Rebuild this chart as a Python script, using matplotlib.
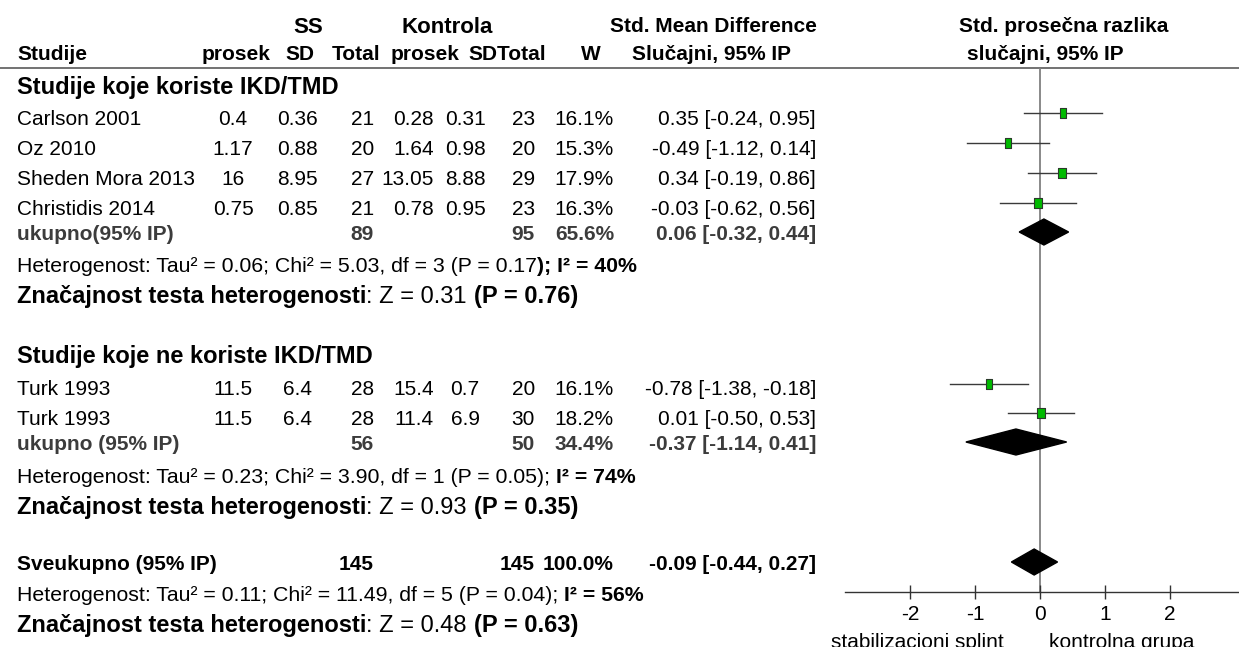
import matplotlib
matplotlib.use("Agg")
import matplotlib.pyplot as plt

plt.rcParams["font.family"] = "Liberation Sans"

# ---- data ----
studies = ["Carlson 2001", "Oz 2010", "Sheden Mora 2013", "Christidis 2014", "Turk 1993", "Turk 1993"]
study_group = [0, 0, 0, 0, 1, 1]
ss_mean = [0.4, 1.17, 16, 0.75, 11.5, 11.5]
ss_sd = [0.36, 0.88, 8.95, 0.85, 6.4, 6.4]
ss_n = [21, 20, 27, 21, 28, 28]
k_mean = [0.28, 1.64, 13.05, 0.78, 15.4, 11.4]
k_sd = [0.31, 0.98, 8.88, 0.95, 0.7, 6.9]
k_n = [23, 20, 29, 23, 20, 30]
weights = [16.1, 15.3, 17.9, 16.3, 16.1, 18.2]
smd = [0.35, -0.49, 0.34, -0.03, -0.78, 0.01]
smd_lo = [-0.24, -1.12, -0.19, -0.62, -1.38, -0.50]
smd_hi = [0.95, 0.14, 0.86, 0.56, -0.18, 0.53]

group_titles = ["Studije koje koriste IKD/TMD", "Studije koje ne koriste IKD/TMD"]
sub_labels = ["ukupno(95% IP)", "ukupno (95% IP)"]
sub_ss_n = [89, 56]
sub_k_n = [95, 50]
sub_w = [65.6, 34.4]
sub_smd = [0.06, -0.37]
sub_lo = [-0.32, -1.14]
sub_hi = [0.44, 0.41]

tot_ss_n, tot_k_n, tot_w = 145, 145, 100.0
tot_smd, tot_lo, tot_hi = -0.09, -0.44, 0.27

het_tau2 = [0.06, 0.23, 0.11]
het_chi2 = [5.03, 3.90, 11.49]
het_df = [3, 1, 5]
het_p = [0.17, 0.05, 0.04]
het_i2 = [40, 74, 56]
test_z = [0.31, 0.93, 0.48]
test_p = [0.76, 0.35, 0.63]

x_ticks = [-2, -1, 0, 1, 2]

# ---- layout (pixel rows) ----
W_PX, H_PX = 1239, 647
PX = 100 / 72
study_text_y = [118, 148, 178, 208, 388, 418]
study_mark_y = [113, 143, 173, 203, 384, 413]
group_y = [86, 355]
sub_text_y = [233, 443]
sub_mark_y = [232, 442]
het_y = [264, 475, 593]
zn_y = [295, 506, 624]
tot_y = 563
axis_y, line_y = 592, 68

fig = plt.figure(figsize=(W_PX / 100, H_PX / 100), dpi=100)
ax = fig.add_axes([0, 0, 1, 1])
ax.set_xlim(0, W_PX)
ax.set_ylim(H_PX, 0)
ax.axis("off")
renderer = fig.canvas.get_renderer()


def put(x, yc, s, size=15, bold=False, ha="left", color="black"):
    # yc is the visual middle of the capitals
    base = yc + 0.716 * size * PX / 2
    return ax.text(x, base, s, fontsize=size, fontweight="bold" if bold else "normal",
                   ha=ha, va="baseline", color=color)


def width(s, size, bold):
    def w(t):
        tt = ax.text(0, 0, t, fontsize=size, fontweight="bold" if bold else "normal")
        ext = tt.get_window_extent(renderer).width
        tt.remove()
        return ext
    return w(s + "|") - w("|")


def put_runs(x, yc, runs, size):
    for s, bold in runs:
        put(x, yc, s, size, bold)
        x += width(s, size, bold)


# header
put(308, 25, "SS", 16, True, "center")
put(447, 25, "Kontrola", 16, True, "center")
put(713, 25, "Std. Mean Difference", 15, True, "center")
put(1064, 25, "Std. prosečna razlika", 15, True, "center")
put(17, 53, "Studije", 15, True)
for xc, s in [(236, "prosek"), (300, "SD"), (356, "Total"), (425, "prosek"),
              (507, "SDTotal"), (591, "W"), (712, "Slučajni, 95% IP"), (1045, "slučajni, 95% IP")]:
    put(xc, 53, s, 15, True, "center")
ax.plot([0, W_PX], [line_y, line_y], color="#5a5a5a", lw=1.2)

cols = [(233, "center"), (297, "center"), (374, "right"), (434, "right"),
        (465, "center"), (535, "right"), (614, "right"), (816, "right")]


def ci(e, lo, hi):
    return f"{e:.2f} [{lo:.2f}, {hi:.2f}]"


for i, name in enumerate(studies):
    y = study_text_y[i]
    put(17, y, name)
    vals = [f"{ss_mean[i]:g}", f"{ss_sd[i]:g}", f"{ss_n[i]}", f"{k_mean[i]:g}",
            f"{k_sd[i]:g}", f"{k_n[i]}", f"{weights[i]:.1f}%", ci(smd[i], smd_lo[i], smd_hi[i])]
    for (xc, ha), v in zip(cols, vals):
        put(xc, y, v, ha=ha)

sub_col = "#3c3c3c"
for g in range(2):
    put(17, group_y[g], group_titles[g], 17, True)
    y = sub_text_y[g]
    put(17, y, sub_labels[g], 15, True, color=sub_col)
    put(cols[2][0], y, f"{sub_ss_n[g]}", 15, True, "right", sub_col)
    put(cols[5][0], y, f"{sub_k_n[g]}", 15, True, "right", sub_col)
    put(cols[6][0], y, f"{sub_w[g]:.1f}%", 15, True, "right", sub_col)
    put(cols[7][0], y, ci(sub_smd[g], sub_lo[g], sub_hi[g]), 15, True, "right", sub_col)

put(17, tot_y, "Sveukupno (95% IP)", 15, True)
put(cols[2][0], tot_y, f"{tot_ss_n}", 15, True, "right")
put(cols[5][0], tot_y, f"{tot_k_n}", 15, True, "right")
put(cols[6][0], tot_y, f"{tot_w:.1f}%", 15, True, "right")
put(cols[7][0], tot_y, ci(tot_smd, tot_lo, tot_hi), 15, True, "right")

for j in range(3):
    head = (f"Heterogenost: Tau² = {het_tau2[j]:.2f}; Chi² = {het_chi2[j]:.2f}, "
            f"df = {het_df[j]} (P = {het_p[j]:.2f}")
    if j == 0:
        runs = [(head, False), (f"); I² = {het_i2[j]}%", True)]
    else:
        runs = [(head + "); ", False), (f"I² = {het_i2[j]}%", True)]
    put_runs(17, het_y[j], runs, 15.3)
    put_runs(17, zn_y[j], [("Značajnost testa heterogenosti", True),
                           (f": Z = {test_z[j]:.2f} ", False),
                           (f"(P = {test_p[j]:.2f})", True)], 17)

# ---- forest panel ----
x0_px, unit_px = 1040, 65
left_px = 845
axf = fig.add_axes([left_px / W_PX, (H_PX - axis_y) / H_PX,
                    (W_PX - left_px) / W_PX, (axis_y - line_y) / H_PX])
axf.set_xlim((left_px - x0_px) / unit_px, (W_PX - x0_px) / unit_px)
axf.set_ylim(axis_y, line_y)
axf.patch.set_alpha(0)
for side in ["top", "right", "left"]:
    axf.spines[side].set_visible(False)
axf.spines["bottom"].set_color("#333333")
axf.spines["bottom"].set_linewidth(1.0)
axf.set_yticks([])
axf.set_xticks(x_ticks)
axf.set_xticklabels([str(t) for t in x_ticks], fontsize=15)
axf.tick_params(axis="x", direction="inout", length=13 / PX, width=1.0, color="#333333", pad=4.5)

axf.axvline(0, color="#808080", lw=1.3, zorder=1)

rect = [(-0.75, -1), (0.75, -1), (0.75, 1), (-0.75, 1), (-0.75, -1)]
for i in range(len(studies)):
    y = study_mark_y[i]
    axf.plot([smd_lo[i], smd_hi[i]], [y, y], color="#3a3a3a", lw=1.0, zorder=2)
    axf.plot(smd[i], y, marker=rect, ms=6.8 * (weights[i] / 16.5) ** 0.5,
             mfc="#00bb00", mec="#2a3a2a", mew=0.8, ls="none", zorder=3)

dh = 13
for g in range(2):
    y = sub_mark_y[g]
    axf.fill([sub_lo[g], sub_smd[g], sub_hi[g], sub_smd[g]], [y, y - dh, y, y + dh],
             color="black", zorder=3)
axf.fill([tot_lo, tot_smd, tot_hi, tot_smd], [tot_y - 1, tot_y - 1 - dh, tot_y - 1, tot_y - 1 + dh],
         color="black", zorder=3)

# bottom direction labels sit on the lower edge, as in the reference
put(917, 641, "stabilizacioni splint", 15, ha="center")
put(1122, 641, "kontrolna grupa", 15, ha="center")

fig.savefig("out.png", dpi=100)
